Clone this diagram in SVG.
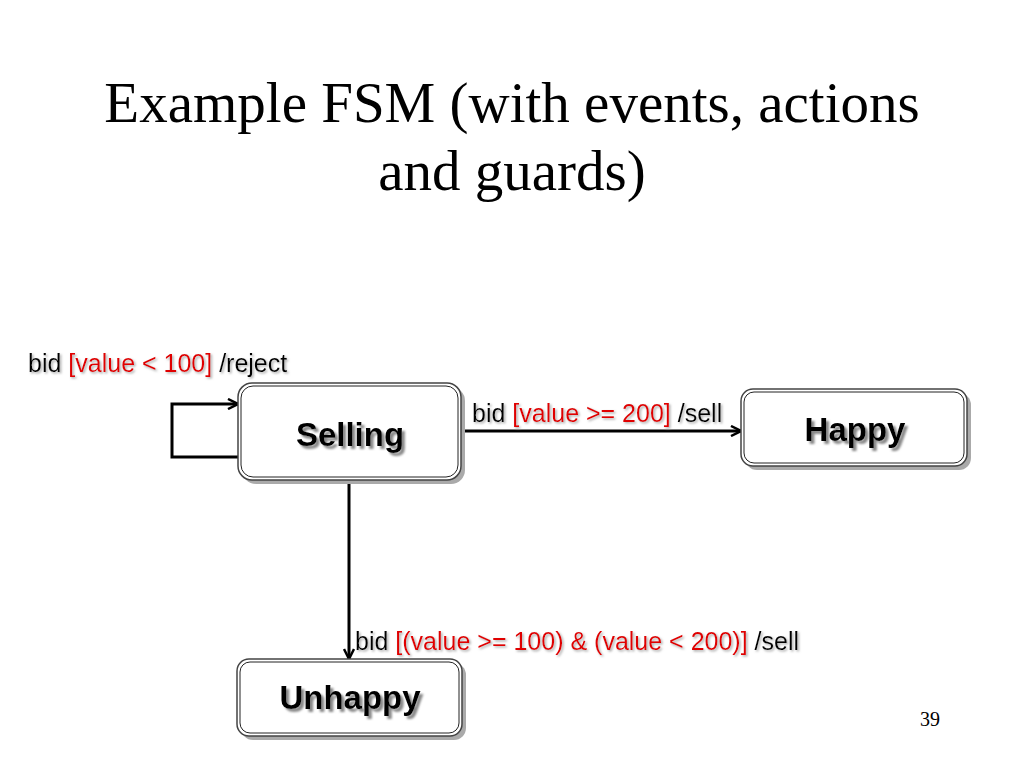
<svg xmlns="http://www.w3.org/2000/svg" width="1024" height="768" viewBox="0 0 1024 768">
<style>
.title{font-family:"Liberation Serif",serif;font-size:57px;fill:#000;text-anchor:middle}
.lbl{font-family:"Liberation Sans",Arial,sans-serif;font-size:25px;filter:url(#tsh)}
.blk{fill:#000}
.red{fill:#e00000}
.nt{font-family:"Liberation Sans",Arial,sans-serif;font-size:33px;font-weight:bold;text-anchor:middle;filter:url(#nsh)}
.box-sh{fill:#aaa}
.box-o{fill:#fff;stroke:#444;stroke-width:1.5}
.box-i{fill:#fff;stroke:#222;stroke-width:1}
.con{fill:none;stroke:#000;stroke-width:3}
</style>
<defs>
<filter id="nsh" x="-10%" y="-20%" width="130%" height="150%">
<feDropShadow dx="3" dy="3" stdDeviation="1" flood-color="#888" flood-opacity="1"/>
</filter>
<filter id="tsh" x="-5%" y="-20%" width="110%" height="150%">
<feDropShadow dx="1.5" dy="1.5" stdDeviation="0.8" flood-color="#aaa" flood-opacity="1"/>
</filter>
<marker id="arr" viewBox="0 0 12 12" refX="11" refY="6" markerWidth="12" markerHeight="12" markerUnits="userSpaceOnUse" orient="auto">
<path d="M1,1 L11,6 L1,11" fill="none" stroke="#000" stroke-width="2.5"/>
</marker>
</defs>
<rect width="1024" height="768" fill="#fff"/>
<text class="title" x="512" y="122">Example FSM (with events, actions</text>
<text class="title" x="512" y="190">and guards)</text>

<g id="connectors">
<path class="con" d="M239,457 H172 V404 H238" marker-end="url(#arr)"/>
<path class="con" d="M462,431 H741" marker-end="url(#arr)"/>
<path class="con" d="M349,481 V659" marker-end="url(#arr)"/>
</g>

<g id="node-selling">
<rect class="box-sh" x="242" y="387" width="223" height="97" rx="14"/>
<rect class="box-o" x="238" y="383" width="223" height="97" rx="14"/>
<rect class="box-i" x="241" y="386" width="217" height="91" rx="12"/>
<text class="nt" x="350" y="446">Selling</text>
</g>

<g id="node-happy">
<rect class="box-sh" x="745" y="393" width="226" height="77" rx="12"/>
<rect class="box-o" x="741" y="389" width="226" height="77" rx="12"/>
<rect class="box-i" x="744" y="392" width="220" height="71" rx="10"/>
<text class="nt" x="855" y="441">Happy</text>
</g>

<g id="node-unhappy">
<rect class="box-sh" x="241" y="663" width="225" height="77" rx="12"/>
<rect class="box-o" x="237" y="659" width="225" height="77" rx="12"/>
<rect class="box-i" x="240" y="662" width="219" height="71" rx="10"/>
<text class="nt" x="350" y="709">Unhappy</text>
</g>

<g id="labels">
<text class="lbl" x="28" y="372"><tspan class="blk">bid</tspan><tspan class="red"> [value &lt; 100] </tspan><tspan class="blk">/reject</tspan></text>
<text class="lbl" x="472" y="422"><tspan class="blk">bid</tspan><tspan class="red"> [value &gt;= 200] </tspan><tspan class="blk">/sell</tspan></text>
<text class="lbl" x="355" y="650"><tspan class="blk">bid</tspan><tspan class="red"> [(value &gt;= 100) &amp; (value &lt; 200)] </tspan><tspan class="blk">/sell</tspan></text>
</g>

<text x="930" y="726" font-family="Liberation Serif,serif" font-size="20" text-anchor="middle">39</text>
</svg>
